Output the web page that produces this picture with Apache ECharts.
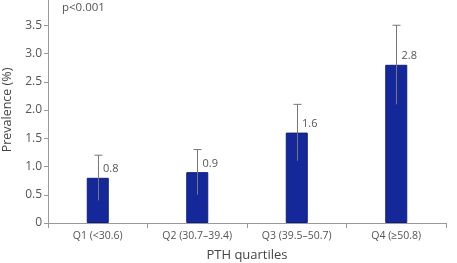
<!DOCTYPE html>
<html>
<head>
<meta charset="utf-8">
<script src="https://cdn.jsdelivr.net/npm/echarts@6/dist/echarts.min.js"></script>
<style>
  html, body { margin: 0; padding: 0; background: #fff; }
  #chart { width: 457px; height: 263px; }
</style>
</head>
<body>
<div id="chart"></div>
<script>
    var categories = ['Q1 (<30.6)', 'Q2 (30.7\u201339.4)', 'Q3 (39.5\u201350.7)', 'Q4 (\u226550.8)']
    var prevalence = [0.8, 0.9, 1.6, 2.8]
    var errLow = [0.4, 0.5, 1.1, 2.1]
    var errHigh = [1.2, 1.3, 2.1, 3.5]
    var yTicks = [0, 0.5, 1.0, 1.5, 2.0, 2.5, 3.0, 3.5, 4.0]

    var errData = []
    for (var i = 0; i < categories.length; i++) errData.push([i, errLow[i], errHigh[i]])

    var myChart = echarts.init(document.getElementById('chart'))
    var option = {
        animation: false,
        textStyle: { fontFamily: 'Open Sans' },
        grid: { left: 48, right: 11, top: -3, bottom: 40, outerBoundsMode: 'none', containLabel: false },
        graphic: [{
            type: 'text', left: 62, top: 2,
            style: { text: 'p<0.001', fontSize: 11.5, fill: '#555', fontFamily: 'Open Sans' }
        }],
        xAxis: {
            type: 'category',
            data: categories,
            name: 'PTH quartiles',
            nameLocation: 'middle',
            nameGap: 26,
            nameTextStyle: { fontSize: 13, color: '#444' },
            axisLine: { lineStyle: { color: '#999' } },
            axisTick: { show: true, length: 5, lineStyle: { color: '#999' } },
            axisLabel: { fontSize: 10.5, color: '#555', margin: 8, interval: 0 }
        },
        yAxis: {
            type: 'value',
            min: 0, max: 4, interval: 0.5,
            name: 'Prevalence (%)',
            nameLocation: 'middle',
            nameGap: 34,
            nameTextStyle: { fontSize: 12.5, color: '#444' },
            axisLine: { show: true, lineStyle: { color: '#999' } },
            axisTick: { show: true, length: 4, lineStyle: { color: '#999' } },
            splitLine: { show: false },
            axisLabel: {
                fontSize: 12, color: '#555', margin: 6,
                showMaxLabel: true,
                hideOverlap: false,
                formatter: function (v) {
                    var idx = yTicks.indexOf(v)
                    if (idx < 0) return ''
                    return v === 0 ? '0' : v.toFixed(1)
                }
            }
        },
        series: [
            {
                type: 'bar',
                data: prevalence,
                barWidth: 22,
                itemStyle: { color: '#15289a', borderColor: '#0f1f80', borderWidth: 1 },
                label: {
                    show: true,
                    position: 'top',
                    distance: 0,
                    offset: [13, -3],
                    fontSize: 11,
                    color: '#555',
                    formatter: function (p) { return p.value.toFixed(1) }
                },
                z: 2
            },
            {
                type: 'custom',
                data: errData,
                z: 3,
                renderItem: function (params, api) {
                    var x = api.value(0)
                    var lo = api.coord([x, api.value(1)])
                    var hi = api.coord([x, api.value(2)])
                    var cx = Math.round(lo[0]) + 0.5
                    var style = { stroke: '#777', lineWidth: 1 }
                    return {
                        type: 'group',
                        children: [
                            { type: 'line', shape: { x1: cx, y1: lo[1], x2: cx, y2: hi[1] }, style: style },
                            { type: 'line', shape: { x1: cx - 4, y1: hi[1], x2: cx + 4, y2: hi[1] }, style: style }
                        ]
                    }
                }
            }
        ]
    }
    myChart.setOption(option)
</script>
</body>
</html>
